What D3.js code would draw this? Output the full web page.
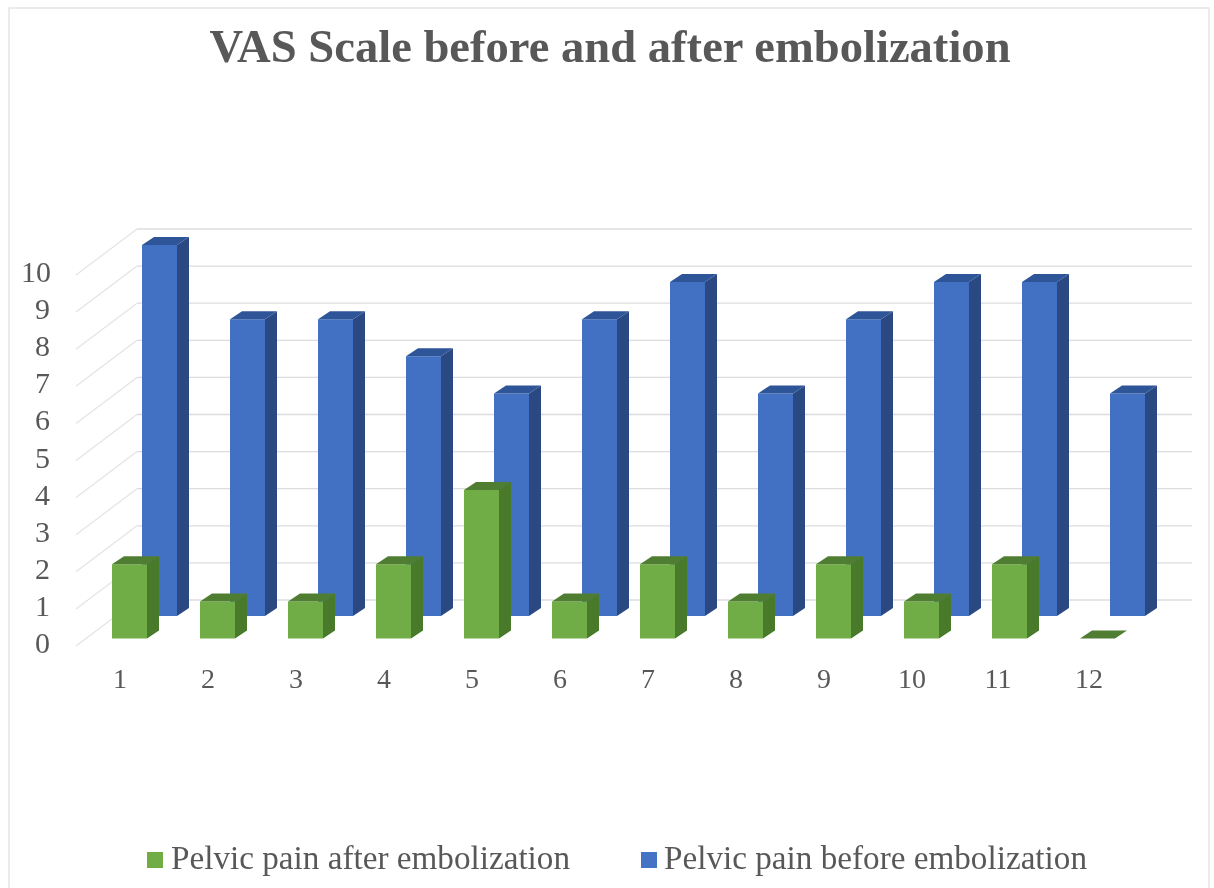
<!DOCTYPE html>
<html><head><meta charset="utf-8">
<script src="https://cdn.jsdelivr.net/npm/d3@7"></script>
<style>html,body{margin:0;padding:0;background:#fff}svg{display:block}text{font-family:"Liberation Serif",serif;fill:#595959}</style>
</head><body><svg id="c" width="1214" height="888"></svg>
<script>
const categories = ["1","2","3","4","5","6","7","8","9","10","11","12"];
const afterValues = [2,1,1,2,4,1,2,1,2,1,2,0];
const beforeValues = [10,8,8,7,6,8,9,6,8,9,9,6];
const ticks = [0,1,2,3,4,5,6,7,8,9,10];
const seriesNames = ["Pelvic pain after embolization","Pelvic pain before embolization"];
const titleText = "VAS Scale before and after embolization";

const svg = d3.select("#c");
const W = 1214, H = 888;
const soft = svg.append("defs").append("filter").attr("id","soft");
soft.append("feGaussianBlur").attr("stdDeviation",0.5);
const root = svg.append("g").attr("filter","url(#soft)");

root.append("rect").attr("x",9).attr("y",8).attr("width",1200).attr("height",H).attr("fill","#fff").attr("stroke","#dedede").attr("stroke-width",1.2);

const y = d3.scaleLinear().domain([0,10]).range([0,-371]);
const x = d3.scalePoint().domain(categories).range([0,968]);
const wallY0 = 600, floorFrontY = 646, wallX0 = 137, wallX1 = 1192, frontX = 76;

root.selectAll(".g").data(ticks).join("line")
  .attr("x1",wallX0).attr("x2",wallX1)
  .attr("y1",d=>wallY0+y(d)).attr("y2",d=>wallY0+y(d))
  .attr("stroke","#dcdcdc").attr("stroke-width",1.3);
root.selectAll(".d").data(ticks).join("line")
  .attr("x1",frontX).attr("x2",wallX0)
  .attr("y1",d=>floorFrontY+y(d)).attr("y2",d=>wallY0+y(d))
  .attr("stroke","#e4e4e4").attr("stroke-width",1.2);

root.selectAll(".yl").data(ticks).join("text")
  .attr("x",d=>d===10?51:50).attr("y",d=>644+y(d)+9)
  .attr("text-anchor","end").attr("font-size",30).text(d=>d);

function bars(values, x0, baseY, front, side, top, dy){
  const bw = 35, dx = 12;
  const g = root.append("g").selectAll("g").data(values).join("g")
    .attr("transform",(d,i)=>`translate(${x0+x(categories[i])},${baseY})`);
  g.append("path").attr("fill",front)
    .attr("d",d=>`M0 0H${bw}V${y(d)}H0Z`);
  g.append("path").attr("fill",side)
    .attr("d",d=>`M${bw} 0L${bw+dx} ${dy}V${y(d)+dy}L${bw} ${y(d)}Z`);
  g.append("path").attr("fill",top)
    .attr("d",d=>`M0 ${y(d)}L${dx} ${y(d)+dy}H${bw+dx}L${bw} ${y(d)}Z`);
}
bars(beforeValues,142,616,"#4270c2","#2a4a83","#2f5597",-8);
bars(afterValues,112,638.5,"#70ad47","#4a7a2c","#507e32",-8);

const xNudge = {"11":-2,"12":1};
root.selectAll(".xl").data(categories).join("text")
  .attr("x",d=>120+x(d)+(xNudge[d]||0)).attr("y",688)
  .attr("text-anchor","middle").attr("font-size",28).text(d=>d);

root.append("text").attr("x",610).attr("y",62).attr("text-anchor","middle")
  .attr("font-size",46.6).attr("font-weight","bold").text(titleText);

const legend = [[147,"#70ad47"],[641,"#4472c4"]];
legend.forEach((l,i)=>{
  root.append("rect").attr("x",l[0]).attr("y",852).attr("width",16).attr("height",16).attr("fill",l[1]);
  root.append("text").attr("x",l[0]+24-(i?1:0)).attr("y",869).attr("font-size",33.2).text(seriesNames[i]);
});
</script></body></html>
